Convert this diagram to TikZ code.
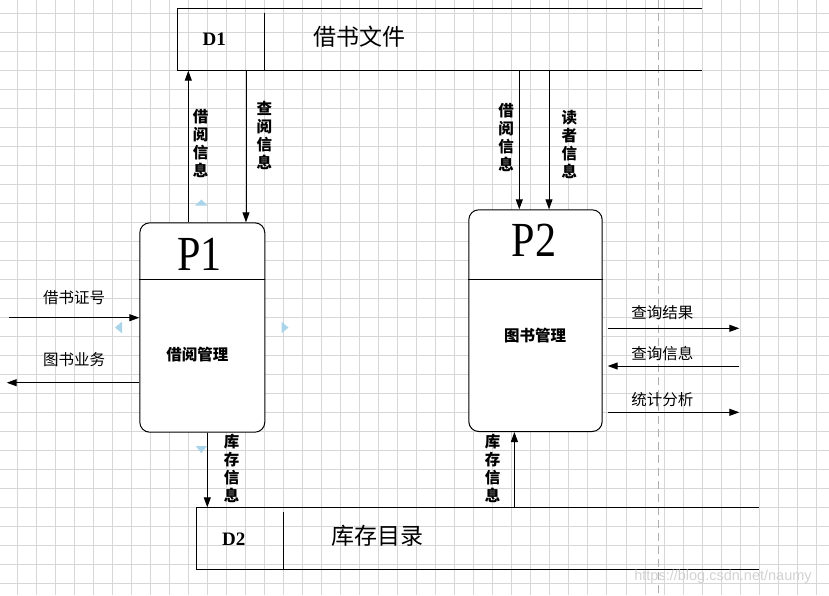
\documentclass[tikz,border=0pt]{standalone}
\usepackage{fontspec}
\setmainfont{Liberation Serif}
\newfontfamily\cjk{Noto Sans CJK SC}
\newfontfamily\pfont[FakeStretch=0.86]{Liberation Serif}
\newfontfamily\wmfont{Liberation Sans}
\usetikzlibrary{arrows.meta,calc}
\definecolor{gridc}{HTML}{D6D6D6}
\definecolor{handlec}{HTML}{AAD4EA}
\definecolor{dashc}{HTML}{B0B0B0}
\tikzset{
  gridline/.style={draw=gridc, line width=0.9pt},
  ln/.style={line width=1pt, draw=black},
  arr/.style={ln, -{Triangle[length=10pt,width=7pt]}},
  proc/.style={draw, line width=1pt, rounded corners=10pt, fill=white, inner sep=0pt, anchor=north west},
  store/.style={inner sep=0pt, anchor=north west},
  vlab/.style={font=\cjk\bfseries\fontsize{15.5}{18}\selectfont, align=center, inner sep=0pt},
  hlab/.style={font=\cjk\fontsize{15.5}{18}\selectfont, inner sep=0pt},
  ptitle/.style={font=\pfont\fontsize{49}{50}\selectfont, inner sep=0pt},
  pname/.style={font=\cjk\bfseries\fontsize{15.5}{18}\selectfont, inner sep=0pt},
  dtag/.style={font=\bfseries\fontsize{19}{20}\selectfont, inner sep=0pt},
  dname/.style={font=\cjk\fontsize{23}{25}\selectfont, inner sep=0pt},
  handle/.style={fill=handlec, draw=none}
}
\begin{document}
\begin{tikzpicture}[x=1pt,y=-1pt]
\useasboundingbox (0,0) rectangle (829,595);
\fill[white] (0,0) rectangle (829,595);
% grid
\foreach \i in {0,...,42} \draw[gridline] ({17.3+19.02*\i},0) -- ({17.3+19.02*\i},595);
\foreach \j in {0,...,30} \draw[gridline] (0,{13.3+19.02*\j}) -- (829,{13.3+19.02*\j});
% dashed guide
\draw[dashc, line width=0.9pt, dash pattern=on 8pt off 5pt] (658.5,0) -- (658.5,595);

% data stores
\node[store, minimum width=524pt, minimum height=62.3pt] (D1) at (177.7,8) {};
\draw[ln] (D1.north east) -- (D1.north west) -- (D1.south west) -- (D1.south east);
\draw[ln] ($(D1.north west)+(86.6,4.7)$) -- ($(D1.south west)+(86.6,0)$);
\node[dtag] (D1t) at (214.2,39.5) {D1};
\node[dname] (D1n) at (359.8,36.7) {借书文件};

\node[store, minimum width=562.1pt, minimum height=62pt] (D2) at (196.6,507.3) {};
\draw[ln] (D2.north east) -- (D2.north west) -- (D2.south west) -- (D2.south east);
\draw[ln] ($(D2.north west)+(86.4,5)$) -- ($(D2.south west)+(86.4,0)$);
\node[dtag] (D2t) at (233.8,539) {D2};
\node[dname] (D2n) at (377.8,535.7) {库存目录};

% processes
\node[proc, minimum width=125pt, minimum height=209.4pt] (P1) at (139.3,222.3) {};
\draw[ln] ($(P1.north west)+(0,57)$) -- ($(P1.north east)+(0,57)$);
\node[ptitle] (P1t) at (199.3,254.3) {P1};
\node[pname] (P1n) at (197.3,354.3) {借阅管理};

\node[proc, minimum width=133.4pt, minimum height=221.7pt] (P2) at (468.3,209.3) {};
\draw[ln] ($(P2.north west)+(0,70)$) -- ($(P2.north east)+(0,70)$);
\node[ptitle] (P2t) at (534,240.7) {P2};
\node[pname] (P2n) at (535,335.7) {图书管理};

% connection points on the process boxes
\coordinate (p1a) at ($(P1.north west)+(49,0)$);
\coordinate (p1b) at ($(P1.north west)+(106.7,0)$);
\coordinate (p2a) at ($(P2.north west)+(51,0)$);
\coordinate (p2b) at ($(P2.north west)+(80.7,0)$);
\coordinate (p1c) at ($(P1.south west)+(68,0)$);
\coordinate (p2c) at ($(P2.south west)+(46.1,0)$);

% flows between processes and stores
\draw[arr] (p1a) -- (p1a |- D1.south);
\draw[arr] (p1b |- D1.south) -- (p1b);
\draw[arr] (p2a |- D1.south) -- (p2a);
\draw[arr] (p2b |- D1.south) -- (p2b);
\draw[arr] (p1c) -- (p1c |- D2.north);
\draw[arr] (p2c |- D2.north) -- (p2c);

\node[vlab] (L1) at (200.5,144) {借\\阅\\信\\息};
\node[vlab] (L2) at (264.3,135) {查\\阅\\信\\息};
\node[vlab] (L3) at (506,138) {借\\阅\\信\\息};
\node[vlab] (L4) at (569.3,144) {读\\者\\信\\息};
\node[vlab] (L5) at (231.7,468) {库\\存\\信\\息};
\node[vlab] (L6) at (492.5,468) {库\\存\\信\\息};

% external flows
\coordinate (in1) at (9.3,317.7);
\coordinate (out1) at (6.7,382.7);
\coordinate (out2) at (739.3,328.3);
\coordinate (in2) at (739.3,366);
\coordinate (out3) at (739.3,412.3);
\coordinate (q1) at ($(out2 -| P2.east)+(5,0)$);
\coordinate (q2) at ($(in2 -| P2.east)+(5,0)$);
\coordinate (q3) at ($(out3 -| P2.east)+(5,0)$);
\draw[arr] (in1) -- (in1 -| P1.west);
\draw[arr] (out1 -| P1.west) -- (out1);
\draw[arr] (q1) -- (out2);
\draw[arr] (in2) -- (q2);
\draw[arr] (q3) -- (out3);

\node[hlab] (E1) at (74,297.7) {借书证号};
\node[hlab] (E2) at (74,359.3) {图书业务};
\node[hlab] (E3) at (662.3,312.3) {查询结果};
\node[hlab] (E4) at (662.3,354) {查询信息};
\node[hlab] (E5) at (662.3,399.3) {统计分析};

% selection handles
\fill[handle] (195,205.7) -- (207.7,205.7) -- (201.3,199.5) -- cycle;
\fill[handle] (195.7,446) -- (207,446) -- (201.3,453) -- cycle;
\fill[handle] (122,321.7) -- (122,333.3) -- (115,327.5) -- cycle;
\fill[handle] (281.5,321.7) -- (281.5,333.3) -- (288.5,327.5) -- cycle;

% watermark
\node[font=\wmfont\fontsize{14.5}{16}\selectfont, text=gray!35, inner sep=0pt] (wm) at (723,577) {https://blog.csdn.net/naumy};
\end{tikzpicture}
\end{document}
